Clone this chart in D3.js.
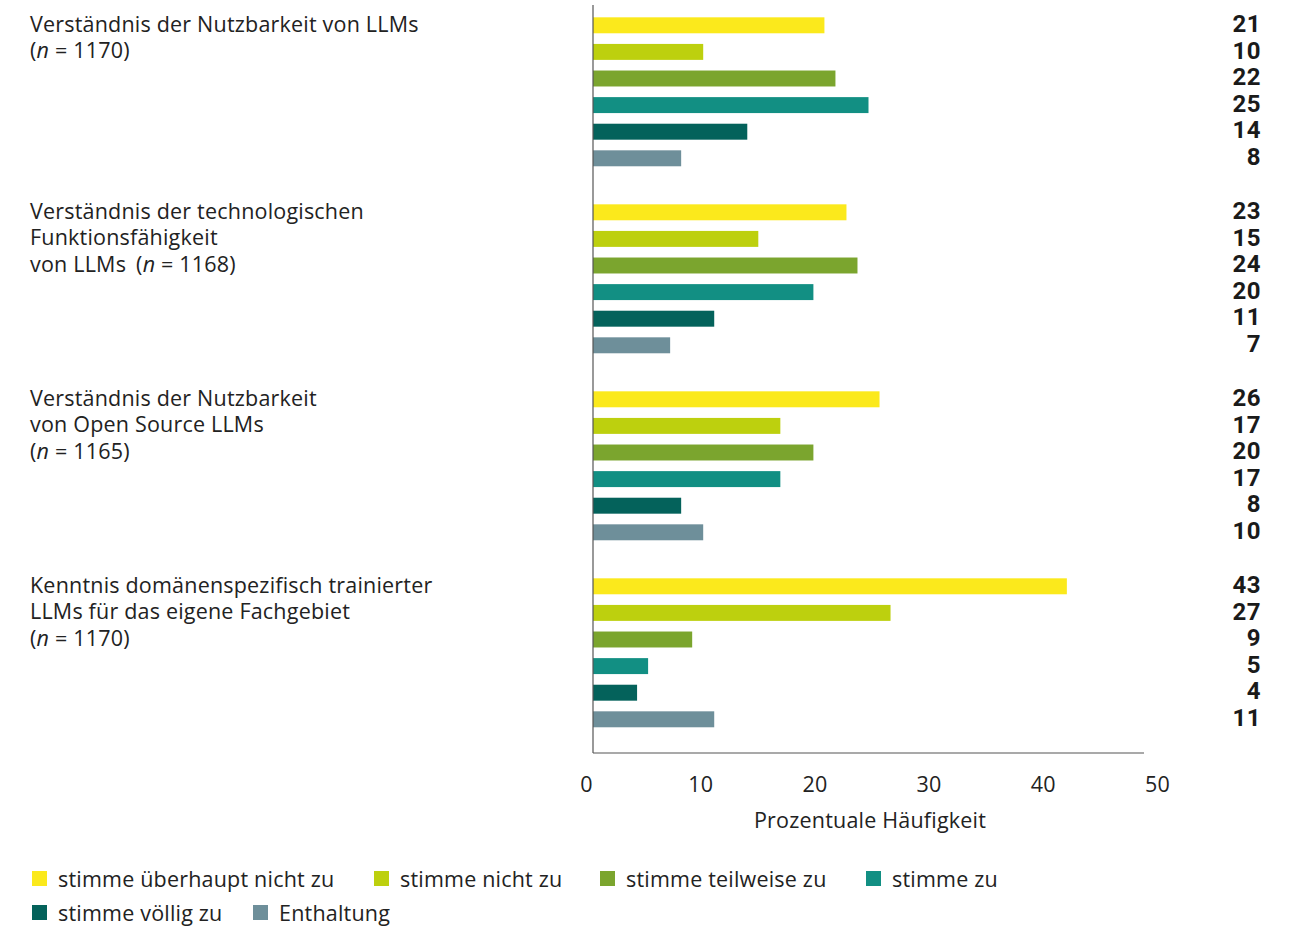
<!DOCTYPE html>
<html><head><meta charset="utf-8">
<script src="https://cdn.jsdelivr.net/npm/d3@7"></script>
<style>
body{margin:0;background:#fff;}
svg{display:block;font-family:"Open Sans", "Noto Sans", sans-serif;}
</style></head>
<body>
<svg id="chart" width="1291" height="926"></svg>
<script>
const groups = ["g1","g2","g3","g4"];
const groupLabels = [
  [["Verständnis der Nutzbarkeit von LLMs"],[["(",""],["n","i"],[" = 1170)",""]]],
  [["Verständnis der technologischen"],["Funktionsfähigkeit"],[["von LLMs",""],["(","g"],["n","i"],[" = 1168)",""]]],
  [["Verständnis der Nutzbarkeit"],["von Open Source LLMs"],[["(",""],["n","i"],[" = 1165)",""]]],
  [["Kenntnis domänenspezifisch trainierter"],["LLMs für das eigene Fachgebiet"],[["(",""],["n","i"],[" = 1170)",""]]]
];
const series = ["stimme überhaupt nicht zu","stimme nicht zu","stimme teilweise zu","stimme zu","stimme völlig zu","Enthaltung"];
const colors = ["#fbe91c","#bdd00e","#7ba52e","#128f83","#04625b","#6e8f9a"];
const values = [
  [21,10,22,25,14,8],
  [23,15,24,20,11,7],
  [26,17,20,17,8,10],
  [43,27,9,5,4,11]
];
const xTicks = [0,10,20,30,40,50];

const svg = d3.select("#chart");
const FS = 21.5, LS = "0.2px";
const x = d3.scaleLinear().domain([0,50]).range([593,1144]);
const xLab = d3.scaleLinear().domain([0,50]).range([586,1157]);
const yG = d3.scaleBand().domain(groups).range([12,12+4*187]);
const yS = d3.scaleBand().domain(series).range([0,159.6]).paddingInner(0.4).paddingOuter(0.2);
const color = d3.scaleOrdinal().domain(series).range(colors);
const textCol = "#222";

groups.forEach((g,gi)=>{
  const gy = yG(g);
  const gSel = svg.append("g");
  gSel.selectAll("rect").data(series).join("rect")
    .attr("x", x(0)).attr("y", s=>gy+yS(s))
    .attr("width", (s,i)=>x(values[gi][i])-x(0))
    .attr("height", yS.bandwidth())
    .attr("fill", s=>color(s));
  gSel.selectAll("text.val").data(series).join("text").attr("class","val")
    .attr("x",1261).attr("y", s=>gy+yS(s)+yS.bandwidth()/2-2)
    .attr("dy","0.36em").attr("text-anchor","end")
    .attr("font-size",24).attr("font-weight","bold").attr("fill","#1a1a1a")
    .attr("font-family","Roboto, sans-serif").attr("letter-spacing","0.5px")
    .text((s,i)=>values[gi][i]);
  const lbl = svg.append("text").attr("font-size",FS).attr("fill",textCol).attr("letter-spacing",LS);
  groupLabels[gi].forEach((line,li)=>{
    const cy = gy + yS(series[li]) + yS.bandwidth()/2 - 1;
    if (typeof line[0] === "string") {
      lbl.append("tspan").attr("x",30).attr("y",cy).attr("dy","0.35em").text(line[0]);
    } else {
      lbl.append("tspan").attr("x",30).attr("y",cy).attr("dy","0.35em").text(line[0][0]);
      line.slice(1).forEach(p=>{
        const t = lbl.append("tspan").attr("font-style",p[1]==="i"?"italic":"normal").text(p[0]);
        if (p[1]==="g") t.attr("dx",10);
      });
    }
  });
});

svg.append("line").attr("x1",x(0)).attr("x2",x(0)).attr("y1",5).attr("y2",753)
  .attr("stroke","#555").attr("stroke-width",1.2);
svg.append("line").attr("x1",x(0)).attr("x2",x(50)).attr("y1",753).attr("y2",753)
  .attr("stroke","#555").attr("stroke-width",1.2);

const axisG = svg.append("g").attr("transform","translate(0,784)")
  .call(d3.axisBottom(xLab).tickValues(xTicks).tickSize(0).tickPadding(0));
axisG.select(".domain").remove();
axisG.selectAll("text").attr("font-size",FS).attr("fill",textCol).attr("letter-spacing",LS)
  .attr("font-family","\"Open Sans\", sans-serif").attr("y",0).attr("dy","0.35em");

svg.append("text").attr("x",870).attr("y",820).attr("dy","0.35em").attr("text-anchor","middle")
  .attr("font-size",FS).attr("fill",textCol).attr("letter-spacing",LS).text("Prozentuale Häufigkeit");

const legendPos = [[32,879],[374,879],[600,879],[866,879],[32,913],[253,913]];
series.forEach((s,i)=>{
  const [lx,ly] = legendPos[i];
  svg.append("rect").attr("x",lx).attr("y",ly-8).attr("width",15).attr("height",15).attr("fill",color(s));
  svg.append("text").attr("x",lx+26).attr("y",ly).attr("dy","0.35em")
    .attr("font-size",FS).attr("fill",textCol).attr("letter-spacing",LS).text(s);
});
</script>
</body></html>
